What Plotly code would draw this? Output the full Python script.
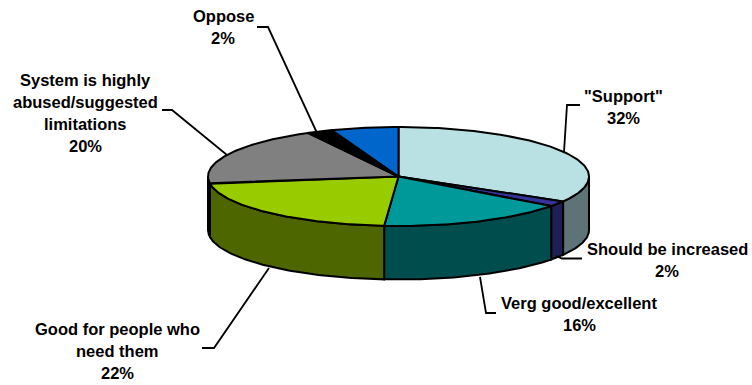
import numpy as np
import plotly.graph_objects as go

slice_names = ['"Support"', "Should be increased", "Verg good/excellent",
               "Good for people who need them", "System is highly abused/suggested limitations",
               "Oppose", "(unlabelled)"]
slice_shares = [33.4, 1.8, 16.0, 21.5, 19.4, 2.2, 5.7]
top_colors = ["#B9E0E3", "#333399", "#009999", "#99CC00", "#808080", "#000000", "#0066CC"]
wall_colors = ["#5E7375", "#1F1F57", "#004D4D", "#4D6600", "#000000", "#000000", "#003366"]

# Printed labels, line by line
label_lines = [
    ['"Support"', "32%"],
    ["Should be increased", "2%"],
    ["Verg good/excellent", "16%"],
    ["Good for people who", "need them", "22%"],
    ["System is highly", "abused/suggested", "limitations", "20%"],
    ["Oppose", "2%"],
]
label_x = [623, 667, 579, 117, 85, 223]
label_y = [96, 249, 303, 329, 80, 16]
line_gap = 22

leaders = [
    ([580, 567, 564], [105, 105, 152]),
    ([582, 562, 556], [258.5, 258.5, 256]),
    ([496, 486, 480], [313, 313, 277]),
    ([202, 214, 269], [348, 348, 268]),
    ([162, 172, 227], [110, 110, 155]),
    ([257, 268, 317], [27, 27, 133]),
]

CX, CY, RX, RY, DEPTH = 398.5, 176.5, 190.5, 49.5, 53.5


def rim(theta):
    return CX + RX * np.sin(theta), CY - RY * np.cos(theta)


fig = go.Figure()
shares = np.array(slice_shares) / sum(slice_shares)
edges = np.concatenate([[0], np.cumsum(shares)]) * 2 * np.pi


def add_poly(xs, ys, color):
    fig.add_trace(go.Scatter(x=xs, y=ys, mode="lines", fill="toself", fillcolor=color,
                             line=dict(color="#000000", width=2), hoverinfo="skip",
                             showlegend=False))


# Side walls (only the front half of the rim, theta between 90 and 270 degrees)
for i in range(len(shares)):
    a = max(edges[i], np.pi / 2)
    b = min(edges[i + 1], 3 * np.pi / 2)
    if b > a:
        t = np.linspace(a, b, 80)
        x, y = rim(t)
        add_poly(np.r_[x, x[::-1], x[0]], np.r_[y, y[::-1] + DEPTH, y[0]], wall_colors[i])

# Top faces
for i in range(len(shares)):
    t = np.linspace(edges[i], edges[i + 1], 120)
    x, y = rim(t)
    add_poly(np.r_[CX, x, CX], np.r_[CY, y, CY], top_colors[i])

# Leader lines
for lx, ly in leaders:
    fig.add_trace(go.Scatter(x=lx, y=ly, mode="lines", line=dict(color="#000000", width=1.8),
                             hoverinfo="skip", showlegend=False))

# Labels
for lines, x0, y0 in zip(label_lines, label_x, label_y):
    for k, txt in enumerate(lines):
        fig.add_annotation(x=x0, y=y0 + k * line_gap, text=f"<b>{txt}</b>", showarrow=False,
                           xanchor="center", yanchor="middle",
                           font=dict(family="Liberation Sans, Arial, sans-serif", size=16.5, color="#000000"))

fig.update_layout(
    width=752, height=385, margin=dict(l=0, r=0, t=0, b=0),
    paper_bgcolor="#FFFFFF", plot_bgcolor="#FFFFFF", showlegend=False,
    xaxis=dict(range=[0, 752], visible=False, fixedrange=True),
    yaxis=dict(range=[385, 0], visible=False, fixedrange=True),
)
fig.write_html("out.html", config={"displayModeBar": False},
               post_script="document.body.style.margin='0';document.body.style.overflow='hidden';")
